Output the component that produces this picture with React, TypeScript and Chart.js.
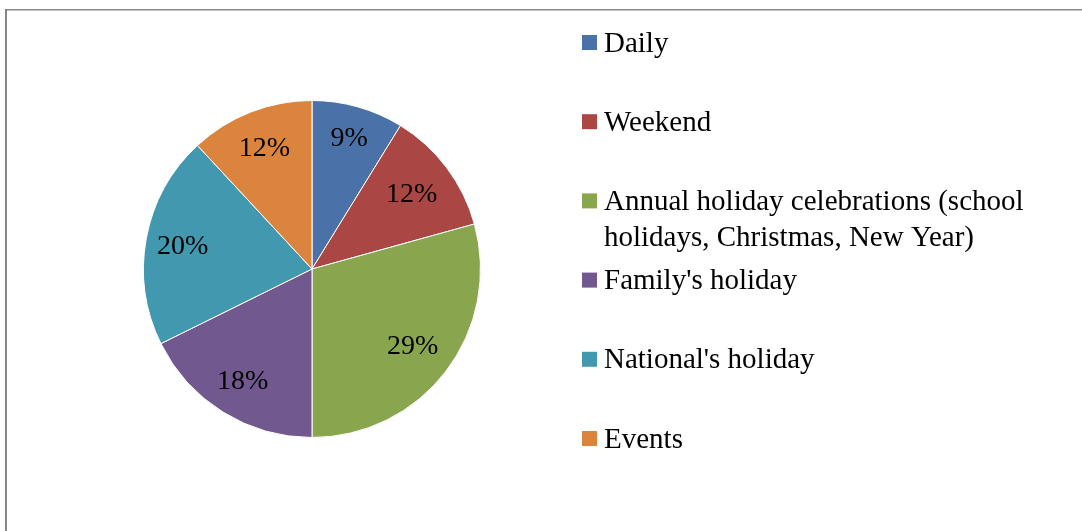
import React, { useEffect, useRef } from "react";
import { Chart, registerables } from "chart.js";

Chart.register(...registerables);

const categories: string[][] = [
  ["Daily"],
  ["Weekend"],
  ["Annual holiday celebrations (school", "holidays, Christmas, New Year)"],
  ["Family's holiday"],
  ["National's holiday"],
  ["Events"],
];
const shares: number[] = [8.8, 11.9, 29.3, 17.7, 20.4, 11.9];
const sliceColors: string[] = ["#4A72A8", "#AA4643", "#89A54E", "#71588F", "#4198AF", "#DB843D"];
const labelRadiusFactors: number[] = [0.81, 0.74, 0.75, 0.78, 0.78, 0.775];

const FONT = "'Liberation Serif', 'Times New Roman', serif";

const framePlugin = {
  id: "frame",
  beforeDraw(chart: any) {
    const ctx = chart.ctx;
    ctx.save();
    ctx.fillStyle = "#ffffff";
    ctx.fillRect(0, 0, chart.width, chart.height);
    ctx.fillStyle = "#878787";
    ctx.fillRect(5, 9, chart.width - 5, 1.5);
    ctx.fillRect(5, 9, 2, chart.height - 9);
    ctx.restore();
  },
};

const labelPlugin = {
  id: "sliceLabels",
  afterDatasetsDraw(chart: any) {
    const ctx = chart.ctx;
    const meta = chart.getDatasetMeta(0);
    const data = chart.data.datasets[0].data as number[];
    ctx.save();
    ctx.fillStyle = "#000000";
    ctx.font = `28px ${FONT}`;
    ctx.textAlign = "center";
    ctx.textBaseline = "middle";
    meta.data.forEach((arc: any, i: number) => {
      const p = arc.getProps(["x", "y", "startAngle", "endAngle", "outerRadius"], true);
      const mid = (p.startAngle + p.endAngle) / 2;
      const r = p.outerRadius * labelRadiusFactors[i];
      ctx.fillText(`${Math.round(data[i])}%`, p.x + Math.cos(mid) * r, p.y + Math.sin(mid) * r + 1);
    });
    ctx.restore();
  },
};

const legendPlugin = {
  id: "sideLegend",
  afterDraw(chart: any) {
    const ctx = chart.ctx;
    const bg = chart.data.datasets[0].backgroundColor as string[];
    ctx.save();
    ctx.font = `29px ${FONT}`;
    ctx.textAlign = "left";
    ctx.textBaseline = "middle";
    const x0 = 582;
    const y0 = 42;
    const step = 79.2;
    const lineH = 36;
    categories.forEach((lines, i) => {
      const cy = y0 + i * step;
      ctx.fillStyle = bg[i];
      ctx.fillRect(x0, cy - 7, 15, 15);
      ctx.fillStyle = "#000000";
      lines.forEach((ln, j) => {
        ctx.fillText(ln, x0 + 22, cy + 2 + j * lineH);
      });
    });
    ctx.restore();
  },
};

export default function App() {
  const ref = useRef<HTMLCanvasElement | null>(null);
  useEffect(() => {
    if (!ref.current) return;
    const chart = new Chart(ref.current, {
      type: "pie",
      data: {
        labels: categories.map((c) => c.join(" ")),
        datasets: [
          {
            data: shares,
            backgroundColor: sliceColors,
            borderColor: "#ffffff",
            borderWidth: 1,
          },
        ],
      },
      options: {
        animation: false,
        responsive: false,
        maintainAspectRatio: false,
        layout: { padding: { left: 143, top: 100, right: 601, bottom: 93 } },
        plugins: {
          legend: { display: false },
          tooltip: { enabled: false },
        },
      },
      plugins: [framePlugin, labelPlugin, legendPlugin],
    });
    return () => chart.destroy();
  }, []);
  return (
    <div style={{ position: "fixed", left: 0, top: 0, width: 1082, height: 531, background: "#fff" }}>
      <canvas ref={ref} width={1082} height={531} style={{ width: 1082, height: 531, display: "block" }} />
    </div>
  );
}
